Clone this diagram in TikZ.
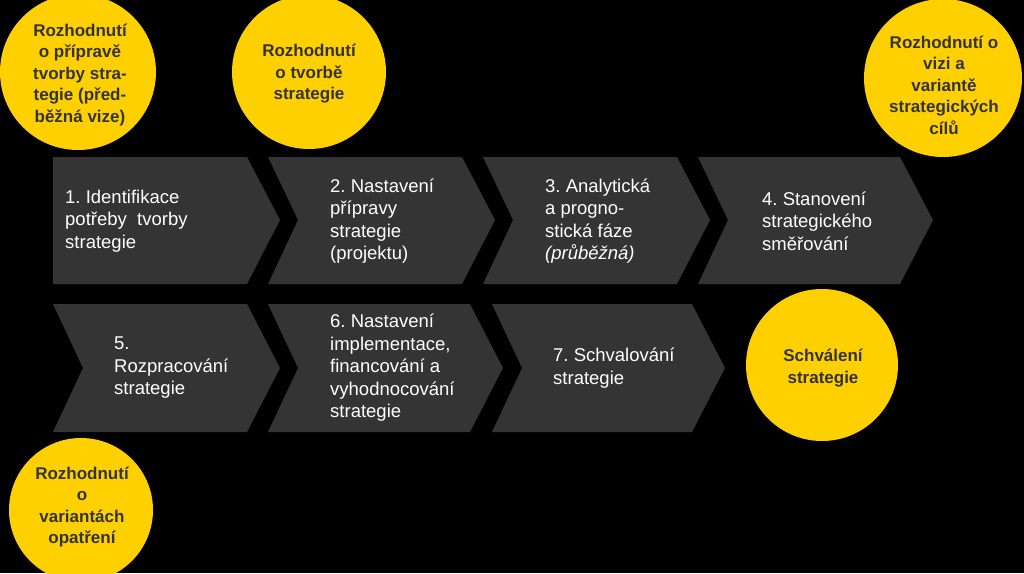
\documentclass[tikz,border=0pt]{standalone}
\usepackage{fontspec}
\setmainfont{Liberation Sans}
\definecolor{chev}{HTML}{343434}
\definecolor{yel}{HTML}{FFD000}
\definecolor{ctext}{HTML}{333333}
\frenchspacing
\begin{document}
\begin{tikzpicture}[x=1pt,y=-1pt,
 chevtext/.style={anchor=west,align=left,inner sep=0pt,text=white,font=\fontsize{18.5}{22.5}\selectfont},
 circ/.style={circle,fill=yel,draw=none,inner sep=0pt},
 circtext/.style={align=center,inner sep=0pt,text=ctext,font=\bfseries\fontsize{17}{21.5}\selectfont}]
\fill[black] (0,0) rectangle (1024,573);
\useasboundingbox (0,0) rectangle (1024,573);
\clip (0,0) rectangle (1024,573);
% top row chevrons
\fill[chev] (53,157) -- (247,157) -- (280,220) -- (247,284) -- (53,284) -- cycle;
\fill[chev] (268,157) -- (462,157) -- (495,220) -- (462,284) -- (268,284) -- (298,220) -- cycle;
\fill[chev] (483,157) -- (677,157) -- (710,220) -- (677,284) -- (483,284) -- (513,220) -- cycle;
\fill[chev] (698,157) -- (900,157) -- (933,220) -- (900,284) -- (698,284) -- (728,220) -- cycle;
% bottom row chevrons
\fill[chev] (53,304) -- (247,304) -- (280,368) -- (247,432) -- (53,432) -- (83,368) -- cycle;
\fill[chev] (268,304) -- (470,304) -- (503,368) -- (470,432) -- (268,432) -- (298,368) -- cycle;
\fill[chev] (492,304) -- (692,304) -- (725,368) -- (692,432) -- (492,432) -- (522,368) -- cycle;
% chevron texts
\node[chevtext] (s1) at (65,221) {1. Identifikace\\potřeby\ \ tvorby\\strategie};
\node[chevtext] (s2) at (330,221) {2. Nastavení\\přípravy\\strategie\\(projektu)};
\node[chevtext] (s3) at (545,221) {3. Analytická\\a progno-\\stická fáze\\\textit{(průběžná)}};
\node[chevtext] (s4) at (762,221) {4. Stanovení\\strategického\\směřování};
\node[chevtext] (s5) at (114,368) {5.\\Rozpracování\\strategie};
\node[chevtext] (s6) at (330,368) {6. Nastavení\\implementace,\\financování a\\vyhodnocování\\strategie};
\node[chevtext] (s7) at (553,368) {7. Schvalování\\strategie};
% circles
\node[circ,minimum size=156pt] (c1) at (78,72) {};
\node[circtext] (t1) at (80,75) {Rozhodnutí\\o přípravě\\tvorby stra-\\tegie (před-\\běžná vize)};
\node[circ,minimum size=154pt] (c2) at (309,72) {};
\node[circtext] (t2) at (309,74) {Rozhodnutí\\o tvorbě\\strategie};
\node[circ,minimum size=158pt] (c3) at (943,78) {};
\node[circtext] (t3) at (944,85) {Rozhodnutí o\\vizi a\\variantě\\strategických\\cílů};
\node[circ,minimum size=152pt] (c4) at (822,365) {};
\node[circtext] (t4) at (823,368) {Schválení\\strategie};
\node[circ,minimum size=144pt] (c5) at (81,510) {};
\node[circtext] (t5) at (82,507) {Rozhodnutí\\o\\variantách\\opatření};
\end{tikzpicture}
\end{document}
